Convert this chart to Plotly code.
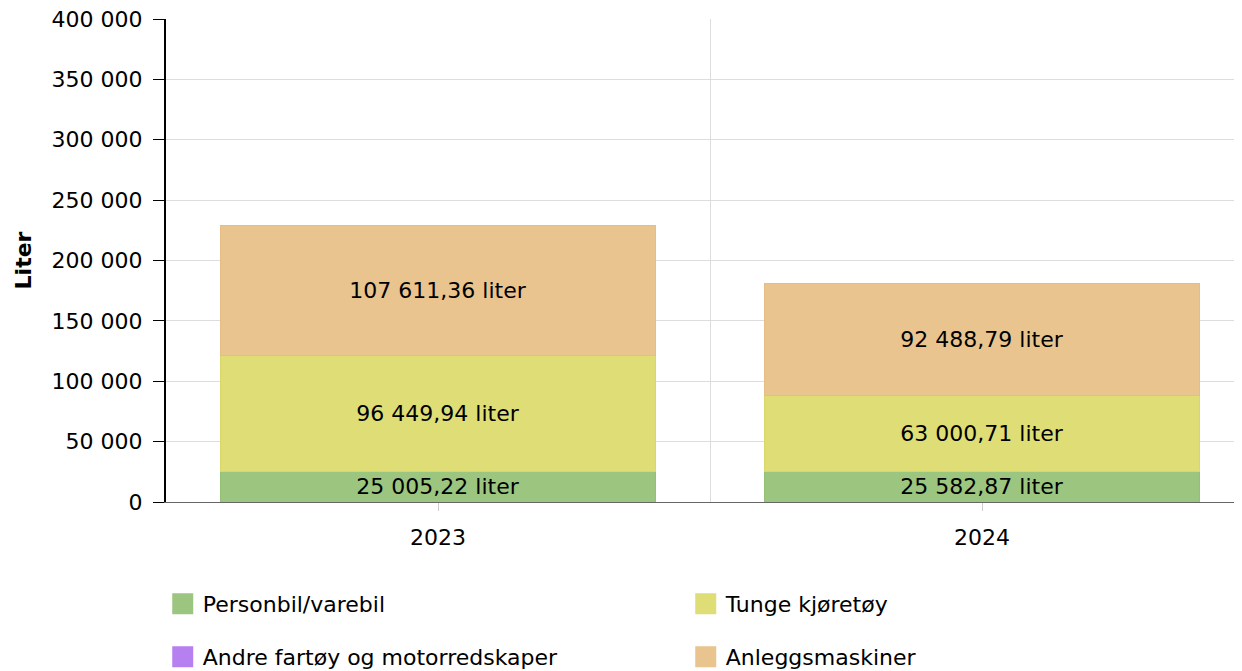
import plotly.graph_objects as go

years = ["2023", "2024"]
categories = ["Personbil/varebil", "Tunge kjøretøy", "Andre fartøy og motorredskaper", "Anleggsmaskiner"]
personbil = [25005.22, 25582.87]
tunge = [96449.94, 63000.71]
andre = [0, 0]
anlegg = [107611.36, 92488.79]
y_ticks = [0, 50000, 100000, 150000, 200000, 250000, 300000, 350000, 400000]

SERIES = [personbil, tunge, andre, anlegg]
COLORS = ["#9cc57f", "#dfdd76", "#b780f0", "#e9c48f"]
BORDERS = ["#93c074", "#d9d76a", "#a86ff0", "#e5be84"]
FONT = "DejaVu Sans, Verdana, sans-serif"
SIZE = 22


def fmt_no(v, decimals=2):
    # Norwegian style: space as thousand separator, comma as decimal mark
    s = f"{v:,.{decimals}f}"
    return s.replace(",", " ").replace(".", ",")


fig = go.Figure()

for i, (name, values) in enumerate(zip(categories, SERIES)):
    labels = [f"{fmt_no(v)} liter" if v else "" for v in values]
    fig.add_trace(
        go.Bar(
            x=[0, 1],
            y=values,
            name=name,
            text=labels,
            textposition="inside",
            insidetextanchor="middle",
            textangle=0,
            constraintext="none",
            cliponaxis=False,
            textfont=dict(family=FONT, size=SIZE, color="black"),
            marker=dict(color=COLORS[i], line=dict(color=BORDERS[i], width=1)),
            width=0.8,
            showlegend=False,
            hovertemplate=f"<b>%{{x}}</b><br>{name}: %{{y:,.2f}} liter<extra></extra>",
        )
    )
    # legend-only entries, bigger squares than the default bar symbol
    fig.add_trace(
        go.Scatter(
            x=[None],
            y=[None],
            mode="markers",
            name=name,
            marker=dict(symbol="square", size=16, color=COLORS[i], line=dict(color=COLORS[i], width=5)),
            legend="legend" if i < 2 else "legend2",
        )
    )

legend_style = dict(
    orientation="h",
    x=-0.003,
    xanchor="left",
    yanchor="middle",
    entrywidth=478,
    entrywidthmode="pixels",
    itemsizing="trace",
    font=dict(family=FONT, size=SIZE, color="black"),
    bgcolor="rgba(0,0,0,0)",
    traceorder="normal",
)

# the page body adds an 8px offset, so margins are trimmed by that amount
fig.update_layout(
    width=1246,
    height=671,
    barmode="stack",
    plot_bgcolor="white",
    paper_bgcolor="white",
    font=dict(family=FONT, size=SIZE, color="black"),
    margin=dict(l=158, r=0, t=11, b=177, autoexpand=False),
    legend=dict(legend_style, y=-0.211),
    legend2=dict(legend_style, y=-0.321),
    xaxis=dict(
        range=[-0.5, 1.5],
        tickmode="array",
        tickvals=[0, 1],
        ticktext=years,
        ticks="outside",
        ticklen=8,
        tickcolor="#cccccc",
        ticklabelstandoff=8,
        showgrid=False,
        showline=True,
        linecolor="#666666",
        linewidth=1,
        zeroline=False,
        minor=dict(tickmode="array", tickvals=[0.5], showgrid=True, gridcolor="#dddddd", gridwidth=1, ticks=""),
        tickfont=dict(family=FONT, size=SIZE, color="black"),
        automargin=False,
        fixedrange=True,
    ),
    yaxis=dict(
        range=[0, 400000],
        tickmode="array",
        tickvals=y_ticks,
        ticktext=[fmt_no(v, 0) for v in y_ticks],
        ticks="outside",
        ticklen=11,
        tickcolor="black",
        tickwidth=1,
        ticklabelstandoff=6,
        ticklabeloverflow="allow",
        showline=True,
        linecolor="black",
        linewidth=2,
        showgrid=True,
        gridcolor="#dddddd",
        gridwidth=1,
        zeroline=False,
        title=dict(text="<b>Liter</b>", font=dict(family=FONT, size=SIZE, color="black"), standoff=14),
        tickfont=dict(family=FONT, size=SIZE, color="black"),
        automargin=False,
        fixedrange=True,
    ),
)

fig.write_html("out.html")
